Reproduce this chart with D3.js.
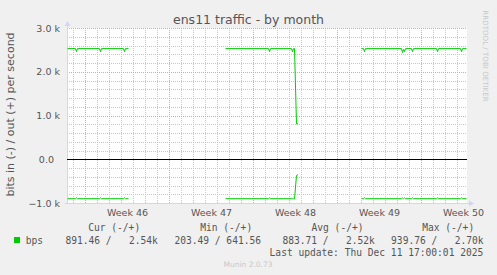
<!DOCTYPE html>
<html><head><meta charset="utf-8">
<script src="https://cdn.jsdelivr.net/npm/d3@7"></script>
<style>
html,body{margin:0;padding:0;background:#f0f0f0;}
svg{display:block;}
text{white-space:pre;}
</style></head>
<body><svg id="c" width="497" height="275"></svg>
<script>
// ---- data ----
const times = [
  "2025-11-08T12:00Z","2025-11-09T04:00Z","2025-11-09T06:00Z","2025-11-09T08:00Z",
  "2025-11-11T04:00Z","2025-11-11T06:00Z","2025-11-11T08:00Z",
  "2025-11-13T04:00Z","2025-11-13T06:00Z","2025-11-13T08:00Z","2025-11-13T14:00Z",
  "2025-11-17T00:00Z",
  "2025-11-21T16:00Z","2025-11-25T06:00Z","2025-11-25T08:00Z","2025-11-25T10:00Z",
  "2025-11-27T04:00Z","2025-11-27T06:00Z","2025-11-27T08:00Z","2025-11-27T10:00Z",
  "2025-11-27T14:00Z","2025-11-27T17:00Z",
  "2025-11-30T00:00Z",
  "2025-12-03T00:00Z","2025-12-03T04:00Z","2025-12-03T06:00Z","2025-12-03T08:00Z",
  "2025-12-06T08:00Z","2025-12-06T10:00Z","2025-12-06T12:00Z","2025-12-06T14:00Z","2025-12-06T16:00Z",
  "2025-12-07T04:00Z","2025-12-07T06:00Z","2025-12-07T08:00Z",
  "2025-12-09T06:00Z","2025-12-09T08:00Z","2025-12-09T10:00Z",
  "2025-12-11T06:00Z","2025-12-11T08:00Z","2025-12-11T10:00Z","2025-12-11T18:00Z"
];
const outBps = [
  2540,2540,2470,2540,
  2540,2470,2540,
  2540,2470,2540,2540,
  null,
  2540,2540,2470,2540,
  2540,2470,2540,2540,
  820,820,
  null,
  2540,2540,2470,2540,
  2540,2450,2520,2470,2540,
  2540,2470,2540,
  2540,2470,2540,
  2540,2470,2540,2540
];
const inBps = [
  -891,-891,-870,-891,
  -891,-870,-891,
  -891,-870,-891,-891,
  null,
  -891,-891,-870,-891,
  -891,-891,-891,-891,
  -360,-340,
  null,
  -891,-891,-870,-891,
  -891,-870,-891,-870,-891,
  -891,-870,-891,
  -891,-870,-891,
  -891,-870,-891,-891
];
const timeDomain = ["2025-11-08T12:00Z","2025-12-11T20:00Z"];
const valueDomain = [-1000, 3000];
const yTicks = [-1000, 0, 1000, 2000, 3000];
const yMinorStep = 200;
const title = "ens11 traffic - by month";
const yTitle = "bits in (-) / out (+) per second";
const legendName = "bps";
const legendHeaders = ["Cur (-/+)","Min (-/+)","Avg (-/+)","Max (-/+)"];
const legendValues = ["891.46 /   2.54k","203.49 / 641.56","883.71 /   2.52k","939.76 /   2.70k"];
const lastUpdate = "Last update: Thu Dec 11 17:00:01 2025";
const watermark = "Munin 2.0.73";
const sideMark = "RRDTOOL / TOBI OETIKER";

// ---- layout ----
const L = 67, R = 467, T = 28, B = 203;
const svg = d3.select("#c");
const FONT = "'DejaVu Sans', sans-serif";
const MONO = "'DejaVu Sans Mono', monospace";
const textCol = "#555";

const x = d3.scaleUtc().domain(timeDomain.map(d => new Date(d))).range([L, R]);
const y = d3.scaleLinear().domain(valueDomain).range([B, T]);
const px = v => Math.round(v) + 0.5;

svg.append("rect").attr("width", 497).attr("height", 275).attr("fill", "#f0f0f0");
svg.append("rect").attr("x", L).attr("y", T).attr("width", R - L).attr("height", B - T).attr("fill", "#ffffff");

// grid
const g = svg.append("g");
const minorY = d3.range(valueDomain[0], valueDomain[1] + 1, yMinorStep).filter(v => v % 1000 !== 0);
g.selectAll(".hm").data(minorY).join("line")
  .attr("x1", L).attr("x2", R).attr("y1", d => px(y(d))).attr("y2", d => px(y(d)))
  .attr("stroke", "#c8c8c8").attr("stroke-dasharray", "1,1");
const days = d3.utcDay.range(x.domain()[0], x.domain()[1]).filter(d => d.getUTCDay() !== 1);
g.selectAll(".vm").data(days).join("line")
  .attr("x1", d => px(x(d))).attr("x2", d => px(x(d))).attr("y1", T).attr("y2", B)
  .attr("stroke", "#c8c8c8").attr("stroke-dasharray", "1,1");
const mondays = d3.utcMonday.range(x.domain()[0], x.domain()[1]);
g.selectAll(".vM").data(mondays).join("line")
  .attr("x1", d => px(x(d))).attr("x2", d => px(x(d))).attr("y1", T).attr("y2", B)
  .attr("stroke", "#e8a0a0").attr("stroke-dasharray", "1,1");
g.selectAll(".hM").data(yTicks.filter(v => v !== valueDomain[0])).join("line")
  .attr("x1", L).attr("x2", R).attr("y1", d => px(y(d))).attr("y2", d => px(y(d)))
  .attr("stroke", "#e8a0a0").attr("stroke-dasharray", "1,1");

// axes lines + arrows
const axisCol = "#cfd6f8";
svg.append("line").attr("x1", L + 0.5).attr("x2", L + 0.5).attr("y1", B + 1).attr("y2", T - 4).attr("stroke", axisCol);
svg.append("line").attr("x1", L - 2).attr("x2", R + 3).attr("y1", B + 0.5).attr("y2", B + 0.5).attr("stroke", axisCol);
svg.append("path").attr("d", `M${L + 0.5},${T - 7} L${L - 2.5},${T - 2} L${L + 3.5},${T - 2} Z`).attr("fill", axisCol);
svg.append("path").attr("d", `M${R + 7},${B + 0.5} L${R + 2},${B - 2.5} L${R + 2},${B + 3.5} Z`).attr("fill", axisCol);

// zero rule
svg.append("line").attr("x1", L).attr("x2", R).attr("y1", px(y(0))).attr("y2", px(y(0))).attr("stroke", "#000");

// series
const pts = times.map((t, i) => ({t: new Date(t), o: outBps[i], n: inBps[i]}));
const lineOut = d3.line().defined(d => d.o !== null).x(d => x(d.t)).y(d => y(d.o));
const lineIn = d3.line().defined(d => d.n !== null).x(d => x(d.t)).y(d => y(d.n));
const lg = svg.append("g").attr("transform", "translate(0.5,0.5)");
lg.append("path").attr("d", lineOut(pts)).attr("fill", "none").attr("stroke", "#00cc00").attr("stroke-width", 1);
lg.append("path").attr("d", lineIn(pts)).attr("fill", "none").attr("stroke", "#00cc00").attr("stroke-width", 1);

// y axis labels
const yAxis = d3.axisLeft(y).tickValues(yTicks).tickSize(0).tickPadding(7)
  .tickFormat(v => v === 0 ? "0.0  " : d3.format(".1f")(v / 1000) + " k");
const ya = svg.append("g").attr("transform", `translate(${L},0)`).call(yAxis);
ya.select(".domain").remove();
ya.selectAll("text").attr("font-family", FONT).attr("font-size", 9.5).attr("fill", textCol);

// x axis labels (centered between week boundaries)
const weekMid = mondays.map(d => d3.utcHour.offset(d, 84));
const xAxis = d3.axisBottom(x).tickValues(weekMid).tickSize(0).tickPadding(6)
  .tickFormat(d => "Week " + d3.utcFormat("%V")(d));
const xa = svg.append("g").attr("transform", `translate(0,${B})`).call(xAxis);
xa.select(".domain").remove();
xa.selectAll("text").attr("font-family", FONT).attr("font-size", 9.5).attr("fill", textCol);

// titles
svg.append("text").attr("x", 248.5).attr("y", 23.5).attr("text-anchor", "middle")
  .attr("font-family", FONT).attr("font-size", 12.5).attr("fill", textCol).text(title);
svg.append("text").attr("transform", `translate(13.8,${(T + B) / 2 - 1}) rotate(-90)`).attr("text-anchor", "middle")
  .attr("font-family", FONT).attr("font-size", 11).attr("fill", textCol).text(yTitle);
svg.append("text").attr("transform", "translate(483,56) rotate(90)").attr("text-anchor", "middle")
  .attr("font-family", FONT).attr("font-size", 7.1).attr("fill", "#c8c8c8").text(sideMark);

// legend
const headX = [88.2, 200.2, 311.5, 422.2];
const valX = [65.4, 174.4, 282.4, 391.1];
svg.selectAll(".lh").data(legendHeaders).join("text")
  .attr("x", (d, i) => headX[i]).attr("y", 230.8)
  .attr("font-family", MONO).attr("font-size", 9.6).attr("fill", textCol).text(d => d);
svg.append("rect").attr("x", 14).attr("y", 237).attr("width", 6).attr("height", 6).attr("fill", "#00cc00");
svg.append("text").attr("x", 25.8).attr("y", 243.5)
  .attr("font-family", MONO).attr("font-size", 9.6).attr("fill", textCol).text(legendName);
svg.selectAll(".lv").data(legendValues).join("text")
  .attr("x", (d, i) => valX[i]).attr("y", 243.5)
  .attr("font-family", MONO).attr("font-size", 9.6).attr("fill", textCol).text(d => d);
svg.append("text").attr("x", 483.3).attr("y", 255.5).attr("text-anchor", "end")
  .attr("font-family", MONO).attr("font-size", 9.6).attr("fill", textCol).text(lastUpdate);
svg.append("text").attr("x", 248).attr("y", 267).attr("text-anchor", "middle")
  .attr("font-family", FONT).attr("font-size", 7.5).attr("fill", "#c8c8c8").text(watermark);
</script>
</body></html>
